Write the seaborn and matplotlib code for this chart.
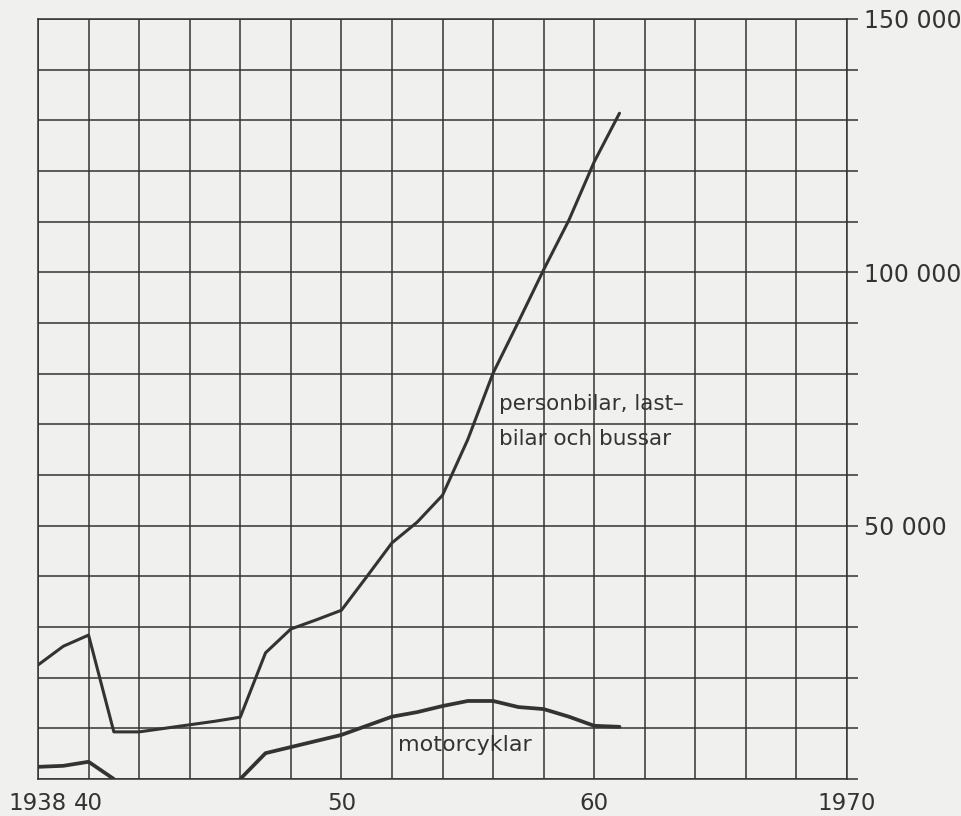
import numpy as np
import pandas as pd
import matplotlib
matplotlib.use("Agg")
import matplotlib.pyplot as plt
import seaborn as sns

# ---- data (values in number of vehicles) ----
years = [1938, 1939, 1940, 1941, 1942, 1943, 1944, 1945, 1946, 1947, 1948, 1949,
         1950, 1951, 1952, 1953, 1954, 1955, 1956, 1957, 1958, 1959, 1960, 1961]
cars = [22500, 26200, 28400, 9300, 9300, 10000, 10700, 11400, 12200, 24900, 29600, 31400,
        33300, 39900, 46600, 50700, 56000, 67000, 80100, 90200, 100500, 110300, 121800, 131400]
motorcycles = [2400, 2600, 3400, 0, np.nan, np.nan, np.nan, np.nan, 0, 5100, 6300, 7500,
               8700, 10500, 12300, 13200, 14400, 15400, 15400, 14200, 13800, 12300, 10500, 10300]

x_ticks = [1938, 1940, 1950, 1960, 1970]
x_tick_labels = ["1938", "40", "50", "60", "1970"]
y_label_values = [50000, 100000, 150000]
y_label_texts = ["50 000", "100 000", "150 000"]
label_cars = "personbilar, last\u2013\nbilar och bussar"
label_moto = "motorcyklar"

bg = "#f0f0ee"
ink = "#333333"

sns.set_theme(style="white")
plt.rcParams["font.family"] = ["DejaVu Sans"]

fig = plt.figure(figsize=(9.62, 8.16), dpi=100, facecolor=bg)
ax = fig.add_axes([38 / 962, 1 - 779 / 816, (847 - 38) / 962, (779 - 19) / 816])
ax.set_facecolor(bg)

df = pd.DataFrame({"year": years, "cars": cars, "moto": motorcycles})

sns.lineplot(data=df, x="year", y="cars", ax=ax, color=ink, linewidth=2.2,
             estimator=None, sort=False)

# motorcycles: draw contiguous non-missing segments
valid = df["moto"].notna()
seg_id = df["moto"].isna().cumsum()
for _, seg in df[valid].groupby(seg_id[valid]):
    sns.lineplot(data=seg, x="year", y="moto", ax=ax, color=ink, linewidth=2.7,
                 estimator=None, sort=False)

ax.set_xlim(1938, 1970)
ax.set_ylim(0, 150000)

# grid every 2 years / 10 000
ax.set_xticks(np.arange(1938, 1971, 2))
ax.set_yticks(np.arange(0, 150001, 10000))
ax.grid(True, color=ink, linewidth=1.1)
ax.set_axisbelow(True)

ax.set_xticklabels(["" for _ in np.arange(1938, 1971, 2)])
ax.tick_params(axis="x", length=0)
for xv, lab in zip(x_ticks, x_tick_labels):
    ax.text(xv, -7100, lab, ha="center", va="bottom", fontsize=16.5, color=ink,
            clip_on=False)

ax.yaxis.tick_right()
ylabels = []
for v in np.arange(0, 150001, 10000):
    ylabels.append(y_label_texts[y_label_values.index(v)] if v in y_label_values else "")
ax.set_yticklabels(ylabels, fontsize=17, color=ink)
ax.tick_params(axis="y", which="major", right=True, left=False, length=8, width=1.1,
               color=ink, pad=4, direction="out")

for sp in ax.spines.values():
    sp.set_color(ink)
    sp.set_linewidth(1.1)

ax.set_xlabel("")
ax.set_ylabel("")

ax.text(1956.25, 70600, label_cars, ha="left", va="center", fontsize=15.5, color=ink,
        linespacing=1.95)
ax.text(1952.25, 6700, label_moto, ha="left", va="center", fontsize=16, color=ink)

fig.savefig("out.png", dpi=100, facecolor=bg)
